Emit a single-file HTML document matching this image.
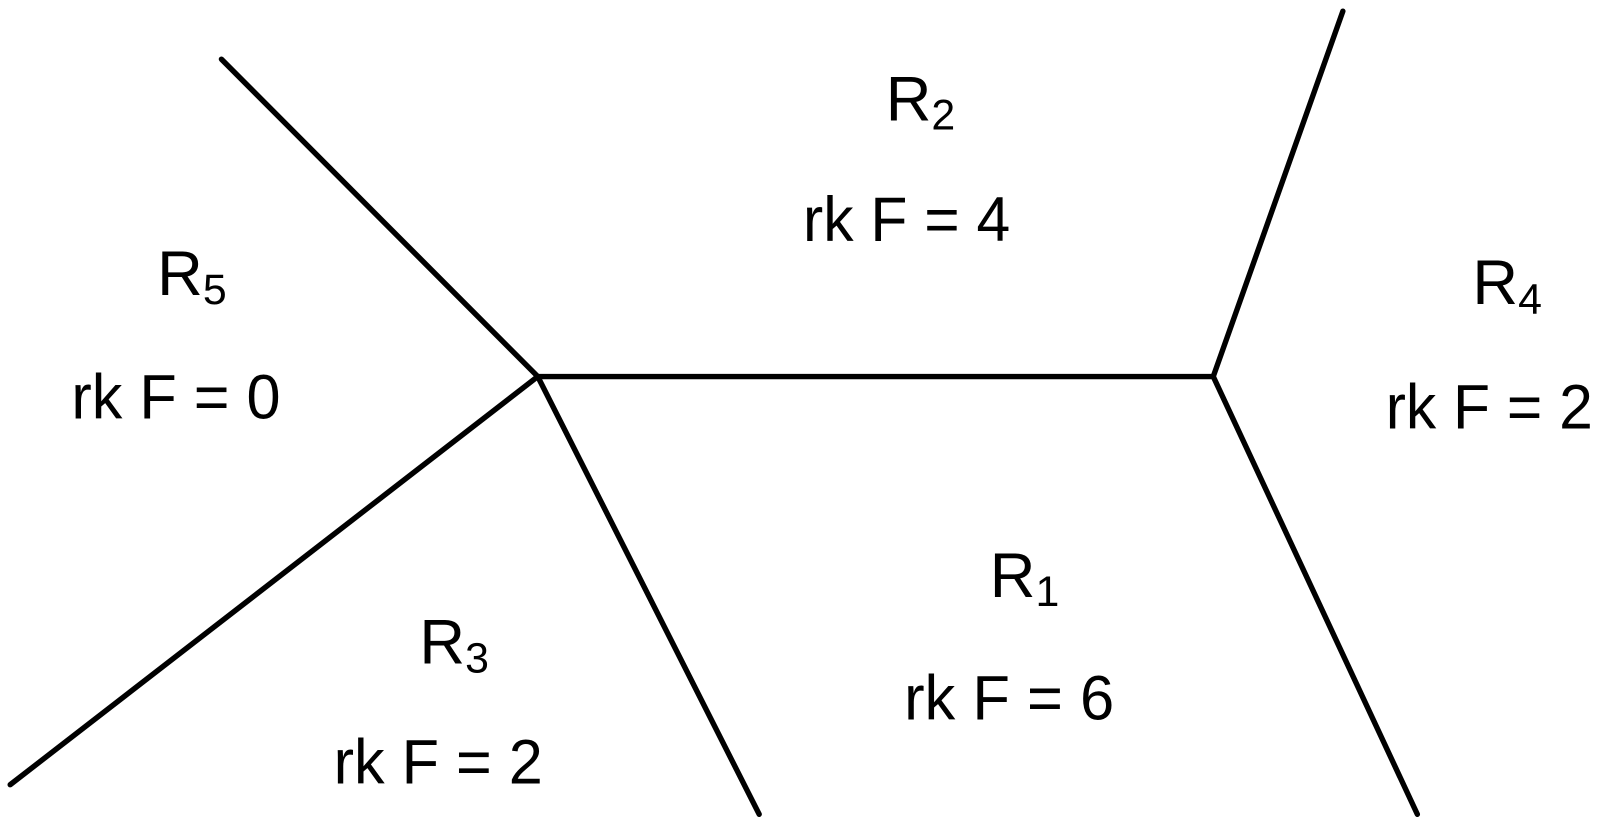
<!DOCTYPE html>
<html><head><meta charset="utf-8"><style>html,body{margin:0;padding:0;background:#fff}</style></head>
<body>
<svg width="1600" height="825" viewBox="0 0 1600 825" xmlns="http://www.w3.org/2000/svg" font-family="'Liberation Sans', sans-serif" fill="#000">
<g transform="scale(1.0204)">
<g stroke="#000" stroke-width="5.3" stroke-linecap="round" fill="none">
<line x1="217" y1="58" x2="527" y2="369"/>
<line x1="527" y1="369" x2="1189" y2="369"/>
<line x1="1189" y1="369" x2="1316" y2="11"/>
<line x1="1189" y1="369" x2="1389" y2="798"/>
<line x1="527" y1="369" x2="10" y2="769"/>
<line x1="527" y1="369" x2="744" y2="798"/>
</g>
<g font-size="62">
<text x="868" y="118">R<tspan font-size="42" dy="9">2</tspan></text>
<text x="787" y="236" textLength="203" lengthAdjust="spacingAndGlyphs">rk F = 4</text>
<text x="154" y="289">R<tspan font-size="42" dy="9">5</tspan></text>
<text x="70" y="410" textLength="205" lengthAdjust="spacingAndGlyphs">rk F = 0</text>
<text x="1443" y="298">R<tspan font-size="42" dy="9">4</tspan></text>
<text x="1358" y="420" textLength="203" lengthAdjust="spacingAndGlyphs">rk F = 2</text>
<text x="970" y="585">R<tspan font-size="42" dy="9">1</tspan></text>
<text x="886" y="705" textLength="206" lengthAdjust="spacingAndGlyphs">rk F = 6</text>
<text x="411" y="650">R<tspan font-size="42" dy="9">3</tspan></text>
<text x="327" y="768" textLength="205" lengthAdjust="spacingAndGlyphs">rk F = 2</text>
</g>
</g>
</svg>
</body></html>
